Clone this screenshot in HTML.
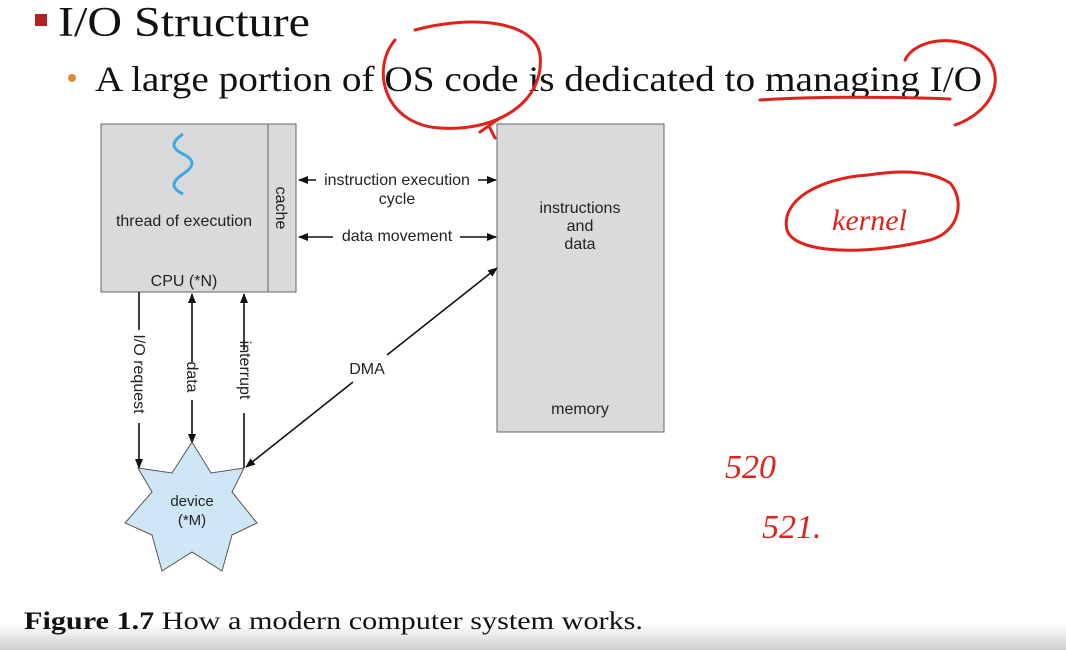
<!DOCTYPE html>
<html><head><meta charset="utf-8"><style>
html,body{margin:0;padding:0;width:1066px;height:650px;overflow:hidden;background:#fff;}
</style></head><body>
<svg width="1066" height="650" xmlns="http://www.w3.org/2000/svg" style="position:absolute;left:0;top:0">
<defs>
<marker id="a" markerWidth="10" markerHeight="8" refX="9" refY="4" orient="auto-start-reverse" markerUnits="userSpaceOnUse"><path d="M0,0 L10,4 L0,8 z" fill="#111"/></marker>
<linearGradient id="g" x1="0" y1="0" x2="0" y2="1"><stop offset="0" stop-color="#fff"/><stop offset="1" stop-color="#cfcfcf"/></linearGradient>
</defs>
<rect x="0" y="624" width="1066" height="26" fill="url(#g)"/>
<rect x="35" y="14" width="12" height="12" fill="#b22222"/>
<text x="58" y="36" font-family="Liberation Serif, serif" font-size="42" fill="#111" textLength="252" lengthAdjust="spacingAndGlyphs">I/O Structure</text>
<circle cx="72" cy="78" r="4" fill="#e08a3c"/>
<text x="95" y="91" font-family="Liberation Serif, serif" font-size="36" fill="#111" textLength="887" lengthAdjust="spacingAndGlyphs">A large portion of OS code is dedicated to managing I/O</text>

<rect x="101" y="124" width="195" height="168" fill="#d9dadc" stroke="#666"/>
<line x1="268" y1="124" x2="268" y2="292" stroke="#666"/>
<rect x="497" y="124" width="167" height="308" fill="#d9dadc" stroke="#666"/>
<path d="M183,134 c-12,8 -12,14 0,20 c12,6 12,12 0,20 c-12,8 -12,14 0,20" fill="none" stroke="#3fa9e0" stroke-width="3"/>
<g font-family="Liberation Sans, sans-serif" font-size="16" fill="#222">
<text x="184" y="226" text-anchor="middle">thread of execution</text>
<text x="184" y="286" text-anchor="middle">CPU (*N)</text>
<text transform="translate(276,208) rotate(90)" text-anchor="middle">cache</text>
<text x="397" y="185" text-anchor="middle">instruction execution</text>
<text x="397" y="204" text-anchor="middle">cycle</text>
<text x="397" y="241" text-anchor="middle">data movement</text>
<text x="580" y="213" text-anchor="middle">instructions</text>
<text x="580" y="231" text-anchor="middle">and</text>
<text x="580" y="249" text-anchor="middle">data</text>
<text x="580" y="414" text-anchor="middle">memory</text>
<text x="367" y="374" text-anchor="middle">DMA</text>
<text transform="translate(134,374) rotate(90)" text-anchor="middle">I/O request</text>
<text transform="translate(187,377) rotate(90)" text-anchor="middle">data</text>
<text transform="translate(240,370) rotate(90)" text-anchor="middle">interrupt</text>
</g>
<g stroke="#111" stroke-width="1.6" fill="none">
<line x1="299" y1="180" x2="316" y2="180" marker-start="url(#a)"/>
<line x1="478" y1="180" x2="496" y2="180" marker-end="url(#a)"/>
<line x1="299" y1="237" x2="333" y2="237" marker-start="url(#a)"/>
<line x1="460" y1="237" x2="496" y2="237" marker-end="url(#a)"/>
<line x1="139" y1="292" x2="139" y2="330"/>
<line x1="139" y1="423" x2="139" y2="468" marker-end="url(#a)"/>
<line x1="192" y1="294" x2="192" y2="362" marker-start="url(#a)"/>
<line x1="192" y1="400" x2="192" y2="443" marker-end="url(#a)"/>
<line x1="244" y1="294" x2="244" y2="350" marker-start="url(#a)"/>
<line x1="244" y1="413" x2="244" y2="468"/>
<line x1="497" y1="268" x2="387" y2="355" marker-start="url(#a)"/>
<line x1="353" y1="382" x2="246" y2="467" marker-end="url(#a)"/>
</g>
<polygon points="192,442 211,473 244,468 232,492 257,523 232,535 222,571 192,552 162,571 152,535 125,523 152,492 138,468 172,473" fill="#cfe6f6" stroke="#555"/>
<g font-family="Liberation Sans, sans-serif" font-size="15" fill="#222">
<text x="192" y="506" text-anchor="middle">device</text>
<text x="192" y="525" text-anchor="middle">(*M)</text>
</g>
<text x="24" y="629" font-family="Liberation Serif, serif" font-size="25" fill="#111" textLength="619" lengthAdjust="spacingAndGlyphs"><tspan font-weight="bold">Figure 1.7</tspan>  How a modern computer system works.</text>

<g stroke="#e0221b" stroke-width="3" fill="none" stroke-linecap="round">
<path d="M395,40 C370,70 385,125 440,128 C500,132 545,100 540,55 C535,20 470,15 415,30"/>
<path d="M480,132 L500,118 M490,128 L495,138"/>
<path d="M760,100 C820,96 900,97 950,99"/>
<path d="M905,60 C920,30 990,35 995,75 C998,100 975,118 955,125"/>
<path d="M868,175 C820,178 780,200 787,230 C795,255 870,255 930,240 C960,232 965,200 950,183 C930,170 900,170 868,175"/>
</g>
<g font-family="Liberation Serif, serif" fill="#e0221b" font-style="italic">
<text x="832" y="230" font-size="30">kernel</text>
<text x="725" y="478" font-size="34">520</text>
<text x="762" y="538" font-size="34">521.</text>
</g>
</svg>
</body></html>
